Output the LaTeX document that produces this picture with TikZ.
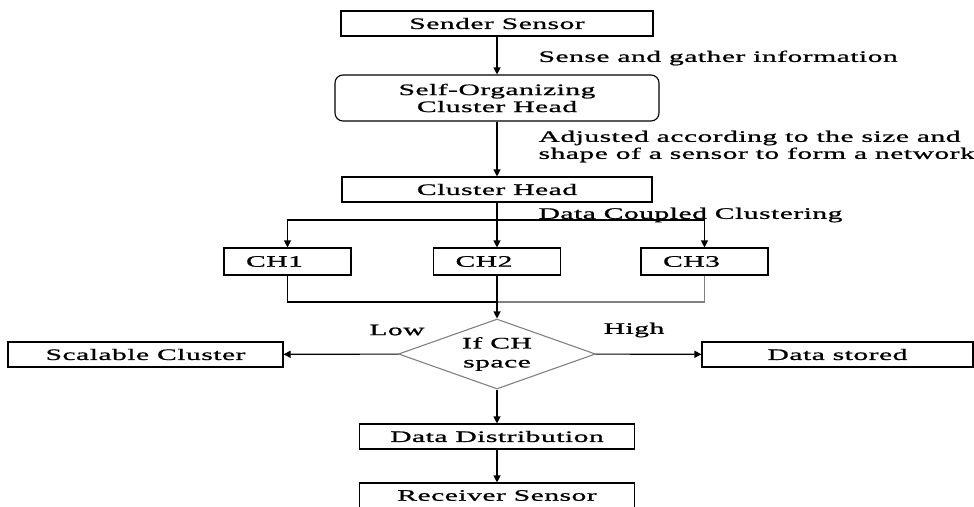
\documentclass[tikz,border=0pt]{standalone}
\usepackage{fontspec}
\newfontfamily\flowfont[FakeStretch=1.85,LetterSpace=3,FakeBold=1]{Liberation Serif}
\usetikzlibrary{arrows.meta,shapes.geometric}

\begin{document}
\begin{tikzpicture}[x=1pt,y=-1pt,line width=1.1pt,
    every node/.style={font=\flowfont\fontsize{16}{17}\selectfont,inner sep=0pt},
    box/.style={draw,rectangle,minimum height=25pt},
    chbox/.style={box,minimum width=127pt,minimum height=27pt},
    >={Triangle[length=7pt,width=7pt]}]
        \useasboundingbox (0,0) rectangle (974,506);
        % main column
        \node[box,minimum width=312pt] (sender) at (497,23.5) {Sender Sensor};
        \node[box,rounded corners=8pt,minimum width=324pt,minimum height=46pt,align=center] (selforg) at (497,98) {Self-Organizing\\Cluster Head};
        \node[box,minimum width=310pt] (head) at (497,189.5) {Cluster Head};
        \node[chbox] (ch1) at (287.5,261.5) {CH1\hspace*{26pt}};
        \node[chbox] (ch2) at (497,261.5) {CH2\hspace*{26pt}};
        \node[chbox] (ch3) at (704.5,261.5) {CH3\hspace*{26pt}};
        \node[draw=gray,diamond,minimum width=197pt,minimum height=70pt,aspect=2.8,align=center,font=\flowfont\fontsize{16}{19}\selectfont] (space) at (497,354) {If CH\\space};
        \node[box,minimum width=275pt] (scal) at (145.5,354.5) {Scalable Cluster};
        \node[box,minimum width=271pt] (stored) at (837.5,354.5) {Data stored};
        \node[box,minimum width=275pt] (distr) at (497,436.5) {Data Distribution};
        \node[box,minimum width=275pt] (recv) at (497,495.5) {Receiver Sensor};

        % side texts
        \node[anchor=west] (sense) at (538,58) {Sense and gather information};
        \node[anchor=west,align=left] (adjust) at (538,146.5) {Adjusted according to the size and\\shape of a sensor to form a network};
        \node[anchor=west] (dcc) at (538,215) {Data Coupled Clustering};
        \node (low) at (397,330) {Low};
        \node (high) at (634,330) {High};

        \coordinate (split) at (497,220);
        \coordinate (join) at (497,302);

        \draw[->] (sender) -- (selforg);
        \draw[->] (selforg) -- (head);
        \draw[->] (head) -- (ch2);
        \draw[->] (split) -| (ch1);
        \draw[->] (split) -| (ch3);
        \draw (ch1) |- (join);
        \draw[gray] (join) -| (ch3);
        \draw[->] (ch2) -- (space);
        \draw[->] (space) -- (scal);
        \draw[->] (space) -- (stored);
        \draw[->] (space) -- (distr);
        \draw[->] (distr) -- (recv);
    \end{tikzpicture}
\end{document}
